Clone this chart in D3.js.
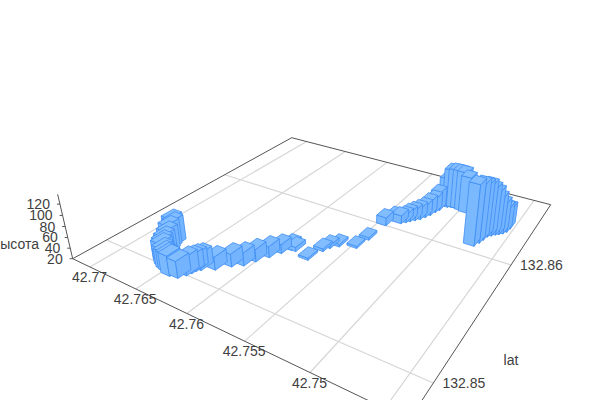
<!DOCTYPE html><html><head><meta charset="utf-8"><script src="https://cdnjs.cloudflare.com/ajax/libs/d3/7.8.5/d3.min.js"></script>
<style>html,body{margin:0;background:#fff;overflow:hidden}svg{display:block}text{font-family:"Liberation Sans",Arial,sans-serif;font-size:14px;fill:#404040}</style></head><body>
<svg id="chart" width="600" height="400"></svg>
<script>
const lons=[42.76762,42.76722,42.76706,42.76685,42.76673,42.76655,42.7663,42.76583,42.76541,42.76503,42.76454,42.76385,42.76354,42.76341,42.76334,42.76311,42.76226,42.7615,42.76082,42.7604,42.75989,42.75945,42.75904,42.75869,42.7572,42.75689,42.75666,42.75617,42.75491,42.7547,42.7546,42.7542,42.75368,42.7534,42.75318,42.7529,42.75261,42.75239,42.75218,42.75203,42.75188,42.7515,42.7512,42.75083,42.75045,42.75002,42.74958,42.74725,42.74705,42.74694,42.74683,42.74661,42.74638,42.74616,42.74593,42.74575,42.74568];
const lats=[132.85225,132.85206,132.85164,132.85135,132.85104,132.85077,132.85054,132.8503,132.85014,132.85006,132.84991,132.85001,132.85041,132.8507,132.85095,132.85117,132.8516,132.85228,132.8527,132.85335,132.85405,132.85473,132.85528,132.85532,132.85498,132.85613,132.8566,132.85701,132.8574,132.85851,132.86044,132.86119,132.86114,132.86141,132.86165,132.86192,132.8622,132.86259,132.86298,132.8635,132.86387,132.86451,132.86464,132.86466,132.86467,132.86457,132.86446,132.86114,132.8616,132.86203,132.86248,132.86271,132.86294,132.8631,132.8633,132.8636,132.86405];
const heights=[67,67,67,62,58,56,56,54,54,54,57,51,53,51,50,50,44,44,44,43,41,37,32,28,24,25,26,25,24,25,36,33,36,36,39,41,43,44,49,49,57,78,95,97,97,98,92,135,131,124,119,111,103,91,79,67,61];
const lonTicks=[42.77,42.765,42.76,42.755,42.75,42.745];
const lonLabels=["42.77","42.765","42.76","42.755","42.75"];
const latTicks=[132.85,132.86];
const latLabels=["132.85","132.86"];
const zTicks=[20,40,60,80,100,120];
const zName="высота", latName="lat";

const A=[72.7,258.7],B=[291.7,137.7],C=[550.7,204.7],D=[409,420];
const g=.4183,h=.6521,K=-.000633,VP=[346,1427];
const lonScale=d3.scaleLinear().domain([42.74352,42.77203]).range([0,1]);
const latScale=d3.scaleLinear().domain([132.84776,132.86787]).range([0,1]);
const zScale=d3.scaleLinear().domain([20,120]).range([0,100]);
const depth=(lon,lat)=>1+g*lonScale(lon)+h*latScale(lat);
function project(lon,lat,z=20){
  const p=lonScale(lon),q=latScale(lat),d=zScale(z)*K;
  const X=(A[0]-D[0]+g*A[0])*p+(C[0]-D[0]+h*C[0])*q+D[0]+d*VP[0];
  const Y=(A[1]-D[1]+g*A[1])*p+(C[1]-D[1]+h*C[1])*q+D[1]+d*VP[1];
  const W=g*p+h*q+1+d;
  return [X/W,Y/W];
}
const [lon0,lon1]=lonScale.domain(),[lat0,lat1]=latScale.domain(),zMax=137;
const svg=d3.select("#chart");
const line=d3.line();

const grid=svg.append("g").attr("stroke","#d6d6d6").attr("stroke-width",1.2).attr("fill","none");
lonTicks.forEach(t=>grid.append("path").attr("d",line([project(t,lat0),project(t,lat1)])));
latTicks.forEach(t=>grid.append("path").attr("d",line([project(lon0,t),project(lon1,t)])));

const axes=svg.append("g").attr("stroke","#555").attr("stroke-width",1).attr("fill","none");
axes.append("path").attr("d",line([project(lon1,lat0),project(lon1,lat1),project(lon0,lat1)]));
axes.append("path").attr("d",line([project(lon1,lat0),project(lon0,lat0),project(lon0,lat1)]));
axes.append("path").attr("d",line([project(lon1,lat0,20),project(lon1,lat0,zMax)]));
zTicks.forEach(t=>{const q=project(lon1,lat0,t);axes.append("path").attr("d",line([q,[q[0]-3,q[1]]]));});

const labels=svg.append("g");
lonLabels.forEach(s=>{const q=project(+s,lat0);labels.append("text").attr("x",q[0]-.5).attr("y",q[1]+10).attr("text-anchor","middle").attr("dominant-baseline","central").text(s);});
latLabels.forEach(s=>{const q=project(lon0,+s);labels.append("text").attr("x",q[0]+30.5).attr("y",q[1]).attr("text-anchor","middle").attr("dominant-baseline","central").text(s);});
zTicks.forEach(t=>{const q=project(lon1,lat0,t);labels.append("text").attr("x",q[0]-10).attr("y",q[1]).attr("text-anchor","end").attr("dominant-baseline","central").text(t);});
labels.append("text").attr("x",39).attr("y",243.5).attr("text-anchor","end").attr("dominant-baseline","central").text(zName);
labels.append("text").attr("x",511).attr("y",360).attr("text-anchor","middle").attr("dominant-baseline","central").text(latName);

const dLon=.00045,dLat=.00047;
const bars=d3.range(lons.length).map(i=>({lon:lons[i],lat:lats[i],z:heights[i]}))
  .sort((a,b)=>depth(b.lon,b.lat)-depth(a.lon,a.lat));
const gBars=svg.append("g").attr("stroke","#3f8ef5").attr("stroke-width",.8).attr("stroke-linejoin","round");
bars.forEach(b=>{
  const c=[[b.lon-dLon,b.lat-dLat],[b.lon+dLon,b.lat-dLat],[b.lon+dLon,b.lat+dLat],[b.lon-dLon,b.lat+dLat]];
  const box=gBars.append("g");
  c.forEach((u,i)=>{
    const v=c[(i+1)%4];
    const poly=[project(u[0],u[1],20),project(v[0],v[1],20),project(v[0],v[1],b.z),project(u[0],u[1],b.z)];
    if(d3.polygonArea(poly)<0) box.append("path").attr("d",line(poly)+"Z").attr("fill",i%2?"#74b4ff":"#7bb9ff");
  });
  box.append("path").attr("d",line(c.map(u=>project(u[0],u[1],b.z)))+"Z").attr("fill","#82bdff");
});
</script></body></html>
